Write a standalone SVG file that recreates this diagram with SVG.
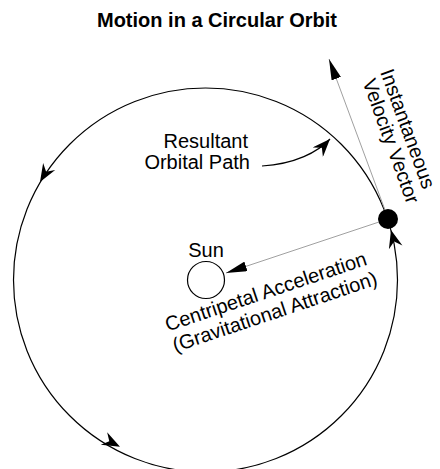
<svg xmlns="http://www.w3.org/2000/svg" xmlns:xlink="http://www.w3.org/1999/xlink" width="440" height="469" viewBox="0 0 440 469">
<style>
text{font-family:"Liberation Sans",Arial,sans-serif;fill:#000}
.lbl{font-size:20px}
.title{font-size:20px;font-weight:bold}
.orbit{fill:none;stroke:#000;stroke-width:1.2}
.vec{fill:none;stroke:#a0a0a0;stroke-width:1}
</style>
<defs>
<marker id="tri" viewBox="0 0 21 10" refX="21" refY="5" markerWidth="21" markerHeight="10" orient="auto" markerUnits="userSpaceOnUse"><path d="M0,0 L21,5 L0,10 Z" fill="#000"/></marker>
<marker id="barbm" viewBox="-18 -7 18 14" refX="0" refY="0" markerWidth="18" markerHeight="14" orient="auto" markerUnits="userSpaceOnUse"><path d="M0,0 L-18,-7 L-12,0 L-18,7 Z" fill="#000"/></marker>
<path id="barb" d="M0,0 L-18,-7 L-12,0 L-18,7 Z" fill="#000"/>
</defs>
<rect width="440" height="469" fill="#fff"/>
<text class="title" x="217" y="27" text-anchor="middle">Motion in a Circular Orbit</text>
<g id="orbit">
<circle class="orbit" cx="205.5" cy="280" r="192"/>
<use xlink:href="#barb" transform="translate(40,182) rotate(120.6)"/>
<use xlink:href="#barb" transform="translate(120,446.7) rotate(27)"/>
<use xlink:href="#barb" transform="translate(391,230) rotate(-105)"/>
</g>
<g id="sun">
<circle cx="206" cy="280" r="18.5" fill="#fff" stroke="#000" stroke-width="1.2"/>
<text class="lbl" x="206" y="257" text-anchor="middle">Sun</text>
</g>
<g id="planet">
<circle cx="388" cy="219" r="10" fill="#000"/>
</g>
<g id="connectors">
<line class="vec" x1="385" y1="210" x2="329" y2="59" marker-end="url(#tri)"/>
<line class="vec" x1="379" y1="222" x2="226" y2="273" marker-end="url(#tri)"/>
<path class="orbit" d="M262,166 C295,164 318,152 330,139" marker-end="url(#barbm)"/>
</g>
<g id="labels">
<text class="lbl" text-anchor="end"><tspan x="248" y="148">Resultant</tspan><tspan x="250" y="169">Orbital Path</tspan></text>
<g transform="translate(380,72) rotate(70)">
<text class="lbl"><tspan x="0" y="0">Instantaneous</tspan><tspan x="3" y="20">Velocity Vector</tspan></text>
</g>
<g transform="translate(268,298) rotate(-18.5)">
<text class="lbl" text-anchor="middle"><tspan x="0" y="0">Centripetal Acceleration</tspan><tspan x="2" y="22">(Gravitational Attraction)</tspan></text>
</g>
</g>
</svg>
